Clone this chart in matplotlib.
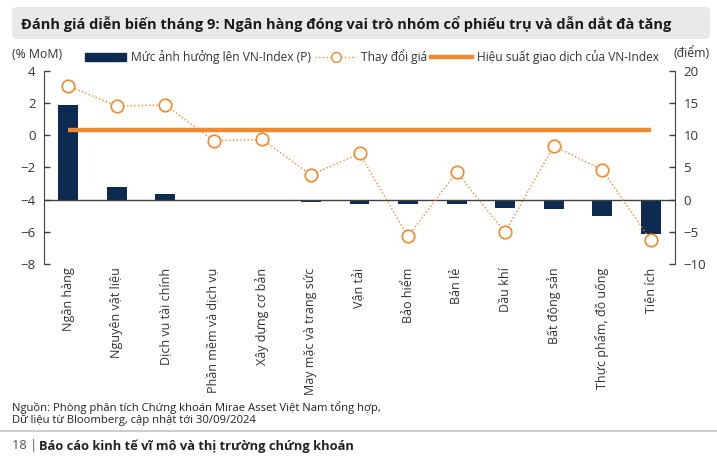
import matplotlib
matplotlib.use("Agg")
import matplotlib.pyplot as plt
from matplotlib.patches import FancyBboxPatch
from matplotlib.lines import Line2D
import numpy as np

plt.rcParams['font.family'] = ['Open Sans', 'DejaVu Sans']

categories = ["Ngân hàng", "Nguyên vật liệu", "Dịch vụ tài chính", "Phần mềm và dịch vụ",
              "Xây dựng cơ bản", "May mặc và trang sức", "Vận tải", "Bảo hiểm", "Bán lẻ",
              "Dầu khí", "Bất động sản", "Thực phẩm, đồ uống", "Tiện ích"]
impact_pts = [14.6, 1.95, 0.88, -0.2, -0.3, -0.4, -0.67, -0.67, -0.72, -1.35, -1.45, -2.53, -5.38]
price_change = [3.05, 1.81, 1.87, -0.35, -0.27, -2.47, -1.14, -6.29, -2.30, -6.02, -0.68, -2.15, -6.52]
vnindex_perf = 0.31
left_ticks = [-8, -6, -4, -2, 0, 2, 4]
right_ticks = [-10, -5, 0, 5, 10, 15, 20]

NAVY = '#0d2b50'
ORANGE = '#f08a2c'
TXT = '#333333'

W, H = 717, 457
fig = plt.figure(figsize=(W/100, H/100), dpi=100)

# title box
box = FancyBboxPatch((12/W, 1 - 39/H), 698/W, 32/H, boxstyle="round,pad=0,rounding_size=0.008",
                     transform=fig.transFigure, facecolor='#e9e9e9', edgecolor='none')
fig.patches.append(box)
fig.text(21/W, 1 - 24/H, "Đánh giá diễn biến tháng 9: Ngân hàng đóng vai trò nhóm cổ phiếu trụ và dẫn dắt đà tăng",
         fontsize=10.5, fontweight='bold', color='#1a1a1a', va='center', ha='left')

ax_bar = fig.add_axes([44/W, 1 - 264/H, (675-44)/W, (264-70.7)/H])
ax_pct = ax_bar.twinx()

x = np.arange(len(categories))
ax_bar.bar(x, impact_pts, width=0.41, color=NAVY, zorder=2)
ax_bar.axhline(0, color='#404040', lw=1.0, zorder=3)
ax_bar.set_ylim(-10, 20)
ax_bar.set_yticks(right_ticks)
ax_bar.yaxis.tick_right()
ax_bar.set_xlim(-0.5, len(categories) - 0.5)

ax_pct.plot(x, price_change, linestyle=':', color=ORANGE, lw=1.0, marker='o', markersize=9,
            markerfacecolor='white', markeredgecolor=ORANGE, markeredgewidth=1.2, zorder=4)
ax_pct.plot([x[0], x[-1]], [vnindex_perf, vnindex_perf], color=ORANGE, lw=3.2,
            solid_capstyle='butt', zorder=3)
ax_pct.set_ylim(-8, 4)
ax_pct.set_yticks(left_ticks)
ax_pct.yaxis.tick_left()
ax_pct.yaxis.set_label_position('left')

for a in (ax_bar, ax_pct):
    for s in a.spines.values():
        s.set_visible(False)
    a.tick_params(axis='y', direction='in', length=4, width=1, color='#404040',
                  labelsize=9.5, labelcolor=TXT, pad=6)
    a.patch.set_visible(False)
ax_pct.spines['left'].set_visible(True)
ax_pct.spines['left'].set_color('#404040')
ax_bar.spines['right'].set_visible(True)
ax_bar.spines['right'].set_color('#404040')
ax_pct.tick_params(axis='y', which='both', left=True, right=False, labelleft=True, labelright=False)
ax_bar.tick_params(axis='y', which='both', left=False, right=True, labelleft=False, labelright=True)

ax_bar.set_xticks(x)
ax_bar.set_xticklabels(categories, rotation=90, fontsize=9, color=TXT, va='top', ha='center')
ax_bar.tick_params(axis='x', length=0, pad=2.5)
ax_pct.tick_params(axis='x', length=0)

fig.text(12/W, 1 - 55/H, "(% MoM)", fontsize=8.8, color=TXT, va='center', ha='left')
fig.text(710/W, 1 - 53/H, "(điểm)", fontsize=8.8, color=TXT, va='center', ha='right')

handles = [
    plt.Rectangle((0, 0), 1, 1, color=NAVY),
    Line2D([0], [0], linestyle=':', color=ORANGE, lw=1.0, marker='o', markersize=7,
           markerfacecolor='white', markeredgecolor=ORANGE),
    Line2D([0], [0], color=ORANGE, lw=3.2),
]
labels = ["Mức ảnh hưởng lên VN-Index (P)", "Thay đổi giá", "Hiệu suất giao dịch của VN-Index"]
leg = fig.legend(handles, labels, loc='center', bbox_to_anchor=(372/W, 1 - 57/H), ncol=3,
                 frameon=False, fontsize=8.65, handlelength=3.4, handleheight=0.6,
                 columnspacing=0.35, handletextpad=0.4, labelcolor=TXT)

fig.text(12.5/W, 1 - 408/H, "Nguồn: Phòng phân tích Chứng khoán Mirae Asset Việt Nam tổng hợp,",
         fontsize=8.1, color='#222222', va='center', ha='left')
fig.text(12.5/W, 1 - 421/H, "Dữ liệu từ Bloomberg, cập nhật tới 30/09/2024",
         fontsize=8.1, color='#222222', va='center', ha='left')
fig.add_artist(Line2D([0, 1], [1 - 431/H, 1 - 431/H], transform=fig.transFigure,
                      color='#c4c4c4', lw=1.2))
fig.text(11.5/W, 1 - 446/H, "18 |", fontsize=9.25, color='#555555', va='center', ha='left')
fig.text(39/W, 1 - 446/H, "Báo cáo kinh tế vĩ mô và thị trường chứng khoán", fontsize=9.25,
         fontweight='bold', color='#222222', va='center', ha='left')

fig.savefig("out.png", dpi=100)
